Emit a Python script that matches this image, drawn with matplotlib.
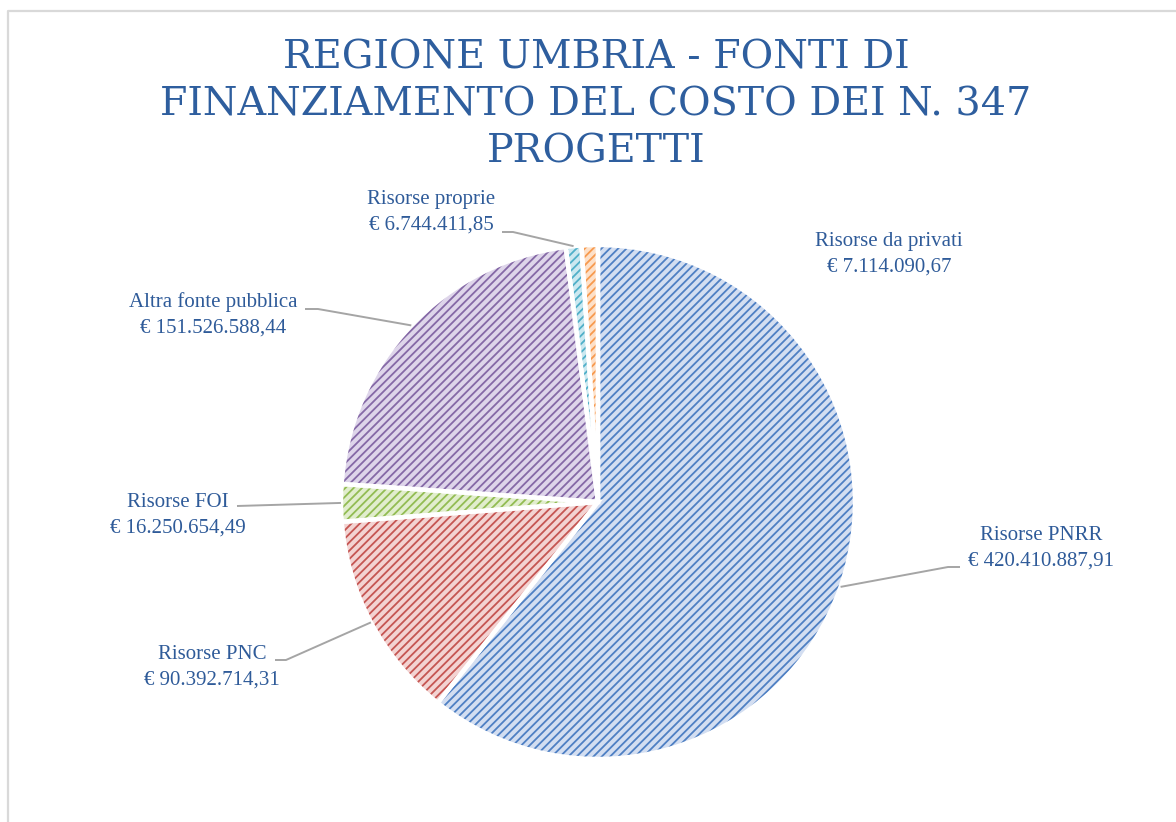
import matplotlib
matplotlib.use("Agg")
import matplotlib.pyplot as plt
import numpy as np

# ---- data ----
categories = ["Risorse PNRR", "Risorse PNC", "Risorse FOI",
              "Altra fonte pubblica", "Risorse proprie", "Risorse da privati"]
values = [420410887.91, 90392714.31, 16250654.49,
          151526588.44, 6744411.85, 7114090.67]
value_labels = ["€ 420.410.887,91", "€ 90.392.714,31", "€ 16.250.654,49",
                "€ 151.526.588,44", "€ 6.744.411,85", "€ 7.114.090,67"]
title = "REGIONE UMBRIA - FONTI DI\nFINANZIAMENTO DEL COSTO DEI N. 347\nPROGETTI"

# ---- styles ----
hatch_colors = ["#4E7FC3", "#C55552", "#92BC52", "#8569A6", "#4FAFC8", "#F79A4E"]
fill_colors = ["#D3DEF1", "#F3D3D2", "#E1EDCD", "#DED5EA", "#CBE8F0", "#FDE0C8"]
text_color = "#2F5B99"
leader_color = "#A5A5A5"

W, H = 1176, 822
CX, CY, R = 598, 502, 257          # pie centre / radius in pixels (y down)

# label block centres and leader elbows (pixel coords, y down)
label_pos = [(1041, 548), (212, 667), (178, 515), (213, 315), (431, 212), (889, 254)]
elbows = [[(948, 567), (960, 567)],
          [(286, 660), (275, 660)],
          [(237, 506)],
          [(318, 309), (305, 309)],
          [(513, 232), (502, 232)],
          []]

plt.rcParams["hatch.linewidth"] = 1.3

fig = plt.figure(figsize=(W / 100, H / 100), dpi=100)
ax = fig.add_axes([0, 0, 1, 1])

def Y(py):
    return H - py

wedges, _ = ax.pie(values, colors=fill_colors, startangle=90, counterclock=False,
                   center=(CX, Y(CY)), radius=R,
                   wedgeprops=dict(linewidth=0))
for w, hc in zip(wedges, hatch_colors):
    w.set_hatch("////")
    w.set_edgecolor(hc)
    w.set_linewidth(0)

# white separators
ax.pie(values, colors=["none"] * len(values), startangle=90, counterclock=False,
       center=(CX, Y(CY)), radius=R,
       wedgeprops=dict(edgecolor="white", linewidth=3.2, fill=False))

ax.set_xlim(0, W)
ax.set_ylim(0, H)
ax.set_aspect("equal")
ax.axis("off")

# labels and leader lines
for i, w in enumerate(wedges):
    mid = np.deg2rad((w.theta1 + w.theta2) / 2)
    sx = CX + R * np.cos(mid)
    sy = Y(CY) + R * np.sin(mid)
    if elbows[i]:
        xs = [sx] + [p[0] for p in elbows[i]]
        ys = [sy] + [Y(p[1]) for p in elbows[i]]
        ax.plot(xs, ys, color=leader_color, lw=1.4, solid_capstyle="butt")
    lx, ly = label_pos[i]
    ax.text(lx, Y(ly), categories[i] + "\n" + value_labels[i],
            ha="center", va="center", multialignment="center",
            fontsize=15, family="Liberation Serif", color=text_color,
            linespacing=1.45)

# title
ax.text(596, Y(105), title, ha="center", va="center", multialignment="center",
        fontsize=28.5, family="DejaVu Serif", color="#2E5E9E", linespacing=1.36)

# chart border (only top and left visible in crop)
ax.plot([8, 8, W + 5], [-5, Y(11), Y(11)], color="#D9D9D9", lw=1.6, clip_on=False)

fig.savefig("out.png", dpi=100, facecolor="white")
